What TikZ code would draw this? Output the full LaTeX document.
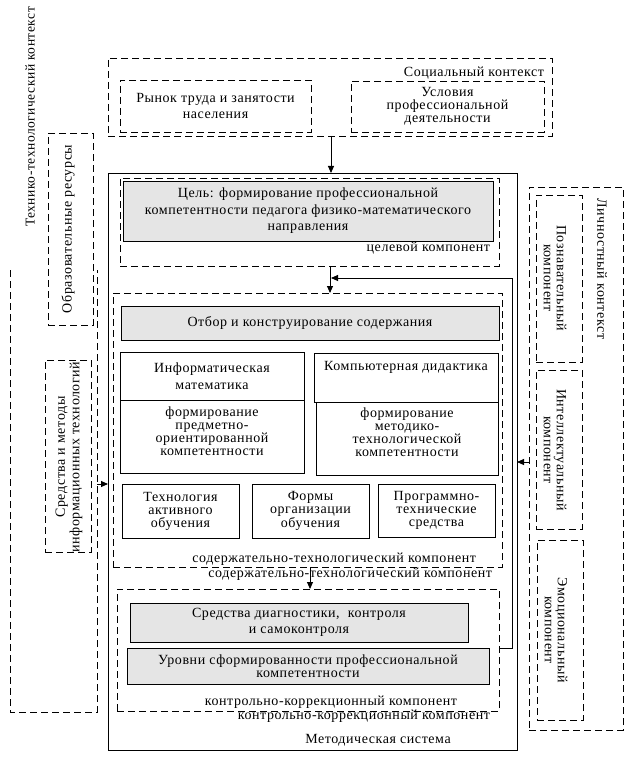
\documentclass[tikz,border=0pt]{standalone}
\usepackage{fontspec}
\setmainfont{Liberation Serif}[LetterSpace=4]
\usetikzlibrary{arrows.meta}
\begin{document}
\begin{tikzpicture}[x=1pt,y=-1pt,
  every node/.style={inner sep=0pt, outer sep=0pt},
  dbox/.style={draw, line width=0.9pt, dash pattern=on 7pt off 4pt, anchor=north west},
  sbox/.style={draw, line width=0.9pt, anchor=north west},
  gbox/.style={draw, line width=0.9pt, fill=black!10, anchor=north west},
  txt/.style={font=\fontsize{14}{16.5}\selectfont, align=center},
  ttxt/.style={font=\fontsize{14}{13}\selectfont, align=center},
  rtxt/.style={font=\fontsize{14}{14.5}\selectfont, align=center},
  arr/.style={-{Triangle[length=7pt,width=6pt]}, line width=0.9pt},
  ln/.style={line width=0.9pt}]
\useasboundingbox (0,0) rectangle (625,759);
% social context
\node[dbox, minimum width=444, minimum height=78] (soc) at (108,58) {};
\node[txt, anchor=east] (soclab) at (544,73) {Социальный контекст};
\node[dbox, minimum width=191, minimum height=52] (rynok) at (120,80) {};
\node[txt] (rynokt) at (rynok.center) {Рынок труда и занятости\\населения};
\node[dbox, minimum width=193, minimum height=51] (uslov) at (351,81) {};
\node[ttxt] (uslovt) at (uslov.center) {Условия\\профессиональной\\деятельности};
% main system
\node[sbox, minimum width=409, minimum height=577] (main) at (108,173) {};
\node[txt] (mainlab) at (378,740) {Методическая система};
% goal component
\node[dbox, minimum width=379, minimum height=88] (goal) at (120,178) {};
\node[gbox, minimum width=370, minimum height=60] (cel) at (123,181) {};
\node[txt] (celt) at (cel.center) {Цель: формирование профессиональной\\компетентности педагога физико-математического\\направления};
\node[txt, anchor=east] (goallab) at (490,248) {целевой компонент};
% content component
\node[dbox, minimum width=389, minimum height=274] (cont) at (113,293) {};
\node[gbox, minimum width=378, minimum height=34] (otbor) at (121,306) {};
\node[txt] (otbort) at (otbor.center) {Отбор и конструирование содержания};
\node[sbox, minimum width=184, minimum height=48] (inf) at (120,352) {};
\node[txt] (inft) at (inf.center) {Информатическая\\математика};
\node[sbox, minimum width=184, minimum height=73] (inf2) at (120,400) {};
\node[ttxt] (inf2t) at (212,431) {формирование\\предметно-\\ориентированной\\компетентности};
\node[sbox, minimum width=184, minimum height=49] (komp) at (314,353) {};
\node[txt] (kompt) at (406,367) {Компьютерная дидактика};
\node[sbox, minimum width=182, minimum height=73] (komp2) at (316,402) {};
\node[ttxt] (komp2t) at (407,432) {формирование\\методико-\\технологической\\компетентности};
\node[sbox, minimum width=117, minimum height=54] (tech) at (122,484) {};
\node[ttxt] (techt) at (tech.center) {Технология\\активного\\обучения};
\node[sbox, minimum width=117, minimum height=54] (form) at (252,484) {};
\node[ttxt] (formt) at (form.center) {Формы\\организации\\обучения};
\node[sbox, minimum width=117, minimum height=53] (prog) at (378,484) {};
\node[ttxt] (progt) at (prog.center) {Программно-\\технические\\средства};
\node[txt, anchor=east] (contlab1) at (476,559) {содержательно-технологический компонент};
\node[txt, anchor=east] (contlab2) at (492,574) {содержательно-технологический компонент};
% control component
\node[dbox, minimum width=382, minimum height=122] (ctrl) at (117,589) {};
\node[gbox, minimum width=338, minimum height=39] (diag) at (130,603) {};
\node[txt] (diagt) at (diag.center) {Средства диагностики,\ \ контроля\\и самоконтроля};
\node[gbox, minimum width=362, minimum height=36] (urov) at (127,648) {};
\node[ttxt] (urovt) at (urov.center) {Уровни сформированности профессиональной\\компетентности};
\node[txt, anchor=east] (ctrllab1) at (457,702) {контрольно-коррекционный компонент};
\node[txt, anchor=east] (ctrllab2) at (490,716) {контрольно-коррекционный компонент};
% left side
\draw[ln, dash pattern=on 7pt off 4pt] (10,270) -- (10,712) -- (97,712) -- (97,270);
\coordinate (tleft) at (97,484);
\node[txt, rotate=90, font=\fontsize{13.5}{16}\selectfont] (techctx) at (30,117) {Технико-технологический контекст};
\node[dbox, minimum width=45, minimum height=192] (obr) at (48,133) {};
\node[txt, rotate=90] (obrt) at (68,229) {Образовательные ресурсы};
\node[dbox, minimum width=46, minimum height=192] (sred) at (45,360) {};
\node[rtxt, rotate=90] (sredt) at (69,457) {Средства и методы\\информационных технологий};
% right side
\node[dbox, minimum width=94, minimum height=543] (pers) at (529,187) {};
\node[txt, rotate=-90] (perslab) at (602,269) {Личностный контекст};
\node[dbox, minimum width=46, minimum height=167] (pozn) at (536,195) {};
\node[ttxt, rotate=-90] (poznt) at (555,278) {Познавательный\\компонент};
\node[dbox, minimum width=46, minimum height=159] (intel) at (536,370) {};
\node[ttxt, rotate=-90] (intelt) at (555,450) {Интеллектуальный\\компонент};
\node[dbox, minimum width=46, minimum height=180] (emo) at (537,540) {};
\node[ttxt, rotate=-90] (emot) at (556,630) {Эмоциональный\\компонент};
% connectors
\draw[arr] (soc.south -| 331,0) -- (main.north -| 331,0);
\draw[arr] (goal.south -| 330,0) -- (cont.north -| 330,0);
\draw[arr] (cont.south -| 310,0) -- (ctrl.north -| 310,0);
\coordinate (fbstart) at (ctrl.east |- 0,648);
\coordinate (fbtip) at (331,278);
\draw[arr] (fbstart) -- (512,648) -- (512,278) -- (fbtip);
\draw[arr] (tleft) -- (main.west |- tleft);
\coordinate (pright) at (pers.west |- 0,462);
\draw[arr] (pright) -- (main.east |- pright);
\end{tikzpicture}
\end{document}
